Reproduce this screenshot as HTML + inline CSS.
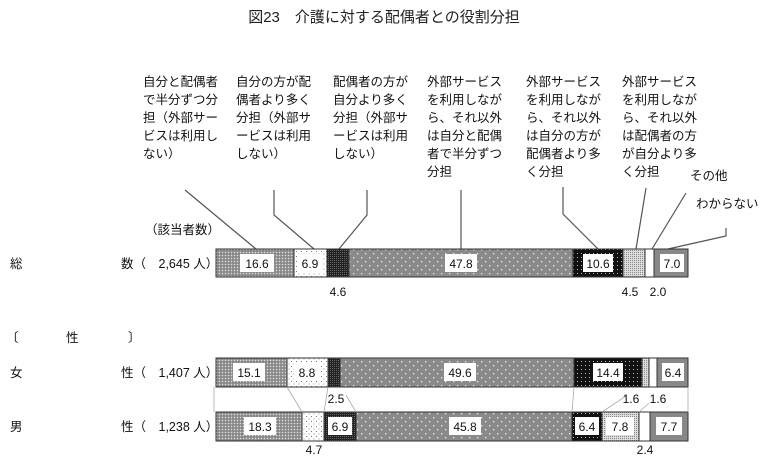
<!DOCTYPE html>
<html><head><meta charset="utf-8"><style>
html,body{margin:0;padding:0;background:#fff;width:768px;height:456px;overflow:hidden}
svg{display:block;font-family:"Liberation Sans","Noto Sans CJK JP",sans-serif}
</style></head><body>
<svg width="768" height="456" viewBox="0 0 768 456" xmlns="http://www.w3.org/2000/svg">
<defs>
<pattern id="p1" width="3" height="3" patternUnits="userSpaceOnUse"><rect width="3" height="3" fill="#9a9a9a"/><rect width="1" height="1" fill="#e0e0e0"/><rect x="1.5" y="1.5" width="1" height="1" fill="#555"/></pattern>
<pattern id="p2" width="5" height="5" patternUnits="userSpaceOnUse"><rect width="5" height="5" fill="#fff"/><rect x="1" y="1" width="1" height="1" fill="#777"/><rect x="3.5" y="3.5" width="1" height="1" fill="#999"/></pattern>
<pattern id="p3" width="2" height="2" patternUnits="userSpaceOnUse"><rect width="2" height="2" fill="#222"/><rect width="1" height="1" fill="#666"/></pattern>
<pattern id="p4" width="8" height="8" patternUnits="userSpaceOnUse"><rect width="8" height="8" fill="#8a8a8a"/><rect x="1" y="1" width="1.3" height="1.3" fill="#eee"/><rect x="5" y="5" width="1.3" height="1.3" fill="#eee"/></pattern>
<pattern id="p5" width="4" height="4" patternUnits="userSpaceOnUse"><rect width="4" height="4" fill="#111"/><rect x="1" y="1" width="1" height="1" fill="#bbb"/></pattern>
<pattern id="p6" width="2" height="2" patternUnits="userSpaceOnUse"><rect width="2" height="2" fill="#ddd"/><rect width="1" height="1" fill="#888"/></pattern>
</defs>
<text x="384" y="22" font-size="15" text-anchor="middle" fill="#222">図23　介護に対する配偶者との役割分担</text>

<g font-size="12.5" fill="#111">
<text x="143" y="86">自分と配偶者</text><text x="143" y="104">で半分ずつ分</text><text x="143" y="122">担（外部サー</text><text x="143" y="140">ビスは利用し</text><text x="143" y="158">ない）</text>
<text x="236" y="86">自分の方が配</text><text x="236" y="104">偶者より多く</text><text x="236" y="122">分担（外部サ</text><text x="236" y="140">ービスは利用</text><text x="236" y="158">しない）</text>
<text x="333" y="86">配偶者の方が</text><text x="333" y="104">自分より多く</text><text x="333" y="122">分担（外部サ</text><text x="333" y="140">ービスは利用</text><text x="333" y="158">しない）</text>
<text x="427" y="86">外部サービス</text><text x="427" y="104">を利用しなが</text><text x="427" y="122">ら、それ以外</text><text x="427" y="140">は自分と配偶</text><text x="427" y="158">者で半分ずつ</text><text x="427" y="176">分担</text>
<text x="526" y="86">外部サービス</text><text x="526" y="104">を利用しなが</text><text x="526" y="122">ら、それ以外</text><text x="526" y="140">は自分の方が</text><text x="526" y="158">配偶者より多</text><text x="526" y="176">く分担</text>
<text x="622" y="86">外部サービス</text><text x="622" y="104">を利用しなが</text><text x="622" y="122">ら、それ以外</text><text x="622" y="140">は配偶者の方</text><text x="622" y="158">が自分より多</text><text x="622" y="176">く分担</text>
<text x="690" y="180">その他</text>
<text x="696" y="208">わからない</text>
<text x="145" y="234">（該当者数）</text>
<text x="10" y="268">総</text><text x="121" y="268">数（　2,645 人）</text>
<text x="6" y="342">〔</text><text x="66" y="342">性</text><text x="128" y="342">〕</text>
<text x="10" y="377">女</text><text x="121" y="377">性（　1,407 人）</text>
<text x="10" y="431">男</text><text x="121" y="431">性（　1,238 人）</text>
</g>

<g stroke="#555" stroke-width="1.2" fill="none">
<polyline points="185,190 256,249"/>
<polyline points="274,190 274,215 314,249"/>
<polyline points="367,190 367,215 339,249"/>
<polyline points="461,190 461,249"/>
<polyline points="563,187 563,214 598,249"/>
<polyline points="646,188 636,249"/>
<polyline points="686,193 652,249"/>
<polyline points="726,228 726,236 668,249"/>
</g>

<!-- total -->
<g stroke="#333" stroke-width="1">
<rect x="216" y="249" width="78" height="28" fill="url(#p1)"/>
<rect x="294" y="249" width="33" height="28" fill="url(#p2)"/>
<rect x="327" y="249" width="22" height="28" fill="url(#p3)"/>
<rect x="349" y="249" width="224" height="28" fill="url(#p4)"/>
<rect x="573" y="249" width="50" height="28" fill="url(#p5)"/>
<rect x="623" y="249" width="22" height="28" fill="url(#p6)"/>
<rect x="645" y="249" width="9" height="28" fill="#fff"/>
<rect x="654" y="249" width="34" height="28" fill="#888"/>
</g>
<!-- female -->
<g stroke="#333" stroke-width="1">
<rect x="216" y="358" width="71" height="29" fill="url(#p1)"/>
<rect x="287" y="358" width="41" height="29" fill="url(#p2)"/>
<rect x="328" y="358" width="12" height="29" fill="url(#p3)"/>
<rect x="340" y="358" width="234" height="29" fill="url(#p4)"/>
<rect x="574" y="358" width="68" height="29" fill="url(#p5)"/>
<rect x="642" y="358" width="7" height="29" fill="url(#p6)"/>
<rect x="649" y="358" width="8" height="29" fill="#fff"/>
<rect x="657" y="358" width="31" height="29" fill="#888"/>
</g>
<!-- male -->
<g stroke="#333" stroke-width="1">
<rect x="216" y="412" width="86" height="29" fill="url(#p1)"/>
<rect x="302" y="412" width="22" height="29" fill="url(#p2)"/>
<rect x="324" y="412" width="32" height="29" fill="url(#p3)"/>
<rect x="356" y="412" width="216" height="29" fill="url(#p4)"/>
<rect x="572" y="412" width="30" height="29" fill="url(#p5)"/>
<rect x="602" y="412" width="37" height="29" fill="url(#p6)"/>
<rect x="639" y="412" width="11" height="29" fill="#fff"/>
<rect x="650" y="412" width="38" height="29" fill="#888"/>
</g>
<g stroke="#aaa" stroke-width="0.8" fill="none">
<line x1="214" y1="387" x2="214" y2="412"/><line x1="688" y1="387" x2="688" y2="412"/>
<line x1="287" y1="387" x2="302" y2="412"/><line x1="328" y1="387" x2="324" y2="412"/>
<line x1="346" y1="395" x2="356" y2="412"/>
<line x1="574" y1="387" x2="572" y2="412"/>
<line x1="626" y1="396" x2="602" y2="412"/><line x1="649" y1="403" x2="639" y2="412"/>
</g>

<!-- value boxes -->
<g fill="#fff">
<rect x="240" y="254" width="34" height="18"/><rect x="298" y="254" width="24" height="18"/>
<rect x="445" y="254" width="32" height="18"/><rect x="583" y="254" width="30" height="18"/><rect x="660" y="254" width="24" height="18"/>
<rect x="233" y="363" width="32" height="18"/><rect x="294" y="363" width="26" height="18"/>
<rect x="444" y="363" width="32" height="18"/><rect x="593" y="363" width="30" height="18"/><rect x="662" y="363" width="22" height="18"/>
<rect x="244" y="417" width="32" height="18"/><rect x="328" y="417" width="24" height="18"/>
<rect x="449" y="417" width="32" height="18"/><rect x="575" y="417" width="24" height="18"/><rect x="606" y="417" width="28" height="18"/><rect x="656" y="417" width="26" height="18"/>
</g>
<g font-size="12" fill="#111" text-anchor="middle">
<text x="257" y="268">16.6</text><text x="310" y="268">6.9</text><text x="461" y="268">47.8</text><text x="598" y="268">10.6</text><text x="672" y="268">7.0</text>
<text x="249" y="377">15.1</text><text x="307" y="377">8.8</text><text x="460" y="377">49.6</text><text x="608" y="377">14.4</text><text x="673" y="377">6.4</text>
<text x="260" y="431">18.3</text><text x="340" y="431">6.9</text><text x="465" y="431">45.8</text><text x="587" y="431">6.4</text><text x="620" y="431">7.8</text><text x="669" y="431">7.7</text>
<text x="338" y="296">4.6</text><text x="630" y="296">4.5</text><text x="658" y="296">2.0</text>
<text x="336" y="403">2.5</text><text x="631" y="403">1.6</text><text x="658" y="403">1.6</text>
<text x="314" y="454">4.7</text><text x="645" y="454">2.4</text>
</g>
</svg>
</body></html>
